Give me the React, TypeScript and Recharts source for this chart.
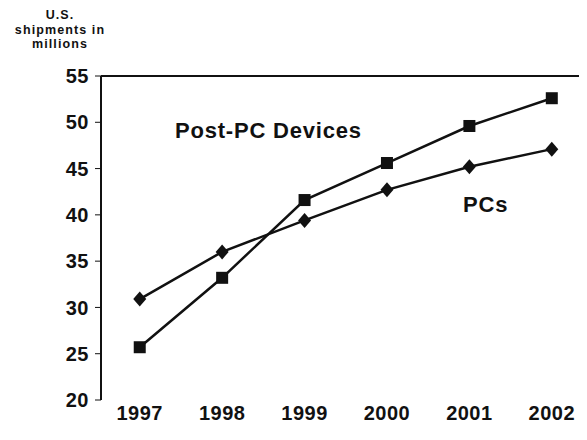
import React from 'react'
import { LineChart, Line, XAxis, YAxis, ReferenceLine } from 'recharts'

const years = [1997, 1998, 1999, 2000, 2001, 2002]
const postPcDevices = [25.7, 33.2, 41.6, 45.6, 49.6, 52.6]
const pcs = [30.9, 36.0, 39.4, 42.7, 45.2, 47.1]
const yTicks = [20, 25, 30, 35, 40, 45, 50, 55]
const boundaryTicks = [1997.5, 1998.5, 1999.5, 2000.5, 2001.5]

const data = years.map((year, i) => ({ year, postPc: postPcDevices[i], pc: pcs[i] }))

const ink = '#111'
const font = '"Liberation Sans", Arial, Helvetica, sans-serif'

const SquareDot = (props: any) => {
    const { cx, cy, index } = props
    if (cx == null || cy == null) return null
    return <rect key={'sq' + index} x={cx - 6} y={cy - 6} width={12} height={12} fill={ink} />
}

const DiamondDot = (props: any) => {
    const { cx, cy, index } = props
    if (cx == null || cy == null) return null
    const r = 7.5
    return (
        <polygon
            key={'dm' + index}
            points={`${cx},${cy - r} ${cx + r - 1},${cy} ${cx},${cy + r} ${cx - r + 1},${cy}`}
            fill={ink}
        />
    )
}

const tickStyle = { fill: ink, fontSize: 20, fontWeight: 700, fontFamily: font, letterSpacing: 0.5 }

function App() {
    return (
        <div style={{ position: 'relative', width: 579, height: 424, overflow: 'hidden' }}>
            <LineChart
                width={600}
                height={424}
                data={data}
                margin={{ top: 68, right: 15, left: 0, bottom: 0 }}
            >
                <XAxis
                    xAxisId='b'
                    type='number'
                    dataKey='year'
                    domain={[1996.53, 2002.5]}
                    ticks={boundaryTicks}
                    tickFormatter={() => ''}
                    tickSize={4}
                    height={0}
                    axisLine={{ stroke: ink, strokeWidth: 2 }}
                    tickLine={{ stroke: ink, strokeWidth: 1 }}
                />
                <XAxis
                    xAxisId='main'
                    type='number'
                    dataKey='year'
                    domain={[1996.53, 2002.5]}
                    ticks={years}
                    axisLine={false}
                    tickLine={false}
                    tickSize={0}
                    tickMargin={6}
                    height={32}
                    tick={tickStyle}
                />
                <YAxis
                    domain={[20, 55]}
                    ticks={yTicks}
                    width={93}
                    tickSize={6}
                    tickMargin={6}
                    axisLine={{ stroke: ink, strokeWidth: 2 }}
                    tickLine={{ stroke: ink, strokeWidth: 1 }}
                    tick={tickStyle}
                />
                <ReferenceLine xAxisId='main' y={55} stroke={ink} strokeWidth={2} />
                <Line
                    xAxisId='main'
                    dataKey='postPc'
                    stroke={ink}
                    strokeWidth={2.5}
                    dot={SquareDot}
                    isAnimationActive={false}
                />
                <Line
                    xAxisId='main'
                    dataKey='pc'
                    stroke={ink}
                    strokeWidth={2.5}
                    dot={DiamondDot}
                    isAnimationActive={false}
                />
            </LineChart>
            <div style={{
                position: 'absolute', left: 2, top: 0, width: 100, textAlign: 'center',
                fontFamily: font, fontWeight: 700, fontSize: 12.5, lineHeight: '14.5px', letterSpacing: 1.1, color: ink
            }}>
                U.S.<br />shipments in<br />millions
            </div>
            <div style={{
                position: 'absolute', left: 167, top: 112, whiteSpace: 'nowrap',
                fontFamily: font, fontWeight: 700, fontSize: 22, lineHeight: '22px', letterSpacing: 0.8, color: ink
            }}>
                Post-PC Devices
            </div>
            <div style={{
                position: 'absolute', left: 455, top: 186, whiteSpace: 'nowrap',
                fontFamily: font, fontWeight: 700, fontSize: 22, lineHeight: '22px', letterSpacing: 0.8, color: ink
            }}>
                PCs
            </div>
        </div>
    )
}

export default App
